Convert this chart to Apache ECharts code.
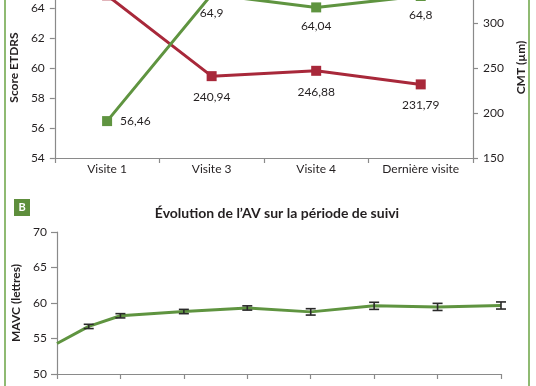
<!DOCTYPE html>
<html>
<head>
<meta charset="utf-8">
<script src="https://cdn.jsdelivr.net/npm/echarts@6/dist/echarts.min.js"></script>
<style>
html,body{margin:0;padding:0;background:#fff;}
#c{width:536px;height:386px;}
</style>
</head>
<body>
<div id="c"></div>
<script>
// ---- Panel A data ----
const visits = ['Visite 1', 'Visite 3', 'Visite 4', 'Dernière visite'];
const etdrs = [56.46, 64.9, 64.04, 64.8];
const cmt = [330.72, 240.94, 246.88, 231.79];
// ---- Panel B data ----
const months = [0, 3, 6, 12, 18, 24, 30, 36, 42];
const mavc = [54.3, 56.7, 58.2, 58.8, 59.3, 58.75, 59.6, 59.45, 59.65];
const mavcErr = [0, 0.3, 0.3, 0.3, 0.3, 0.45, 0.5, 0.5, 0.5];
const titleB = 'Évolution de l\u2019AV sur la période de suivi';

const FONT = 'Lato';
const TXT = '#231f20';
const AXC = '#8a8a8a';
const GREEN = '#5f9440';
const RED = '#a8283a';
const fmt = v => String(v).replace('.', ',');

const chart = echarts.init(document.getElementById('c'), null, {renderer: 'canvas'});

const axisCommon = {
  axisLine: {show: true, lineStyle: {color: AXC, width: 1.2}},
  axisTick: {show: true, length: 5, lineStyle: {color: AXC, width: 1.2}},
  splitLine: {show: false},
  axisLabel: {color: TXT, fontFamily: FONT, fontSize: 12},
  nameTextStyle: {color: TXT, fontFamily: FONT, fontSize: 12, fontWeight: 'bold'}
};
const nameShifted = {color: TXT, fontFamily: FONT, fontSize: 12, fontWeight: 'bold', padding: [0, 0, 0, 23]};

// panel A is cut at the top of the picture: the axes run past the top edge
const gridAHeight = 158;
const leftMax = 54 + gridAHeight / 15;      // 2 units per 30 px
const rightMax = 150 + gridAHeight / 0.9;   // 50 units per 45 px

const option = {
  animation: false,
  textStyle: {fontFamily: FONT},
  title: {
    text: titleB, left: 272, top: 201, textAlign: 'center',
    textStyle: {fontFamily: FONT, fontSize: 14, fontWeight: 'bold', color: TXT}
  },
  grid: [
    {left: 51, right: 63, top: 0, height: gridAHeight},
    {left: 57, right: 35, top: 232, height: 142}
  ],
  xAxis: [
    Object.assign({}, axisCommon, {
      gridIndex: 0, type: 'category', data: visits, boundaryGap: true,
      axisLabel: {color: TXT, fontFamily: FONT, fontSize: 12, margin: 5}
    }),
    Object.assign({}, axisCommon, {
      gridIndex: 1, type: 'value', min: 0, max: 42, interval: 6,
      axisLabel: {show: false}
    })
  ],
  yAxis: [
    Object.assign({}, axisCommon, {
      gridIndex: 0, type: 'value', min: 54, max: leftMax, interval: 2, position: 'left',
      name: 'Score ETDRS', nameLocation: 'middle', nameGap: 23, nameTextStyle: nameShifted,
      axisLabel: {color: TXT, fontFamily: FONT, fontSize: 12, margin: 10, showMaxLabel: false}
    }),
    Object.assign({}, axisCommon, {
      gridIndex: 0, type: 'value', min: 150, max: rightMax, interval: 50, position: 'right',
      name: 'CMT (µm)', nameLocation: 'middle', nameGap: 31, nameRotate: 90, nameTextStyle: nameShifted,
      axisLabel: {color: TXT, fontFamily: FONT, fontSize: 12, margin: 10, showMaxLabel: false}
    }),
    Object.assign({}, axisCommon, {
      gridIndex: 1, type: 'value', min: 50, max: 70, interval: 5,
      name: 'MAVC (lettres)', nameLocation: 'middle', nameGap: 30,
      axisTick: {show: true, length: 6, lineStyle: {color: AXC, width: 1.2}},
      axisLabel: {color: TXT, fontFamily: FONT, fontSize: 12, margin: 10}
    })
  ],
  series: [
    {
      type: 'line', xAxisIndex: 0, yAxisIndex: 1, clip: false,
      data: cmt.map((v, i) => ({value: v, label: {position: i === 0 ? 'top' : 'bottom'}})),
      symbol: 'rect', symbolSize: 10,
      lineStyle: {color: RED, width: 3},
      itemStyle: {color: RED},
      label: {show: true, position: 'bottom', distance: 10, color: TXT, fontFamily: FONT, fontSize: 12,
        formatter: p => fmt(p.value)}
    },
    {
      type: 'line', xAxisIndex: 0, yAxisIndex: 0, clip: false,
      data: etdrs.map((v, i) => ({value: v, label: {position: i === 0 ? 'right' : 'bottom'}})),
      symbol: 'rect', symbolSize: 10,
      lineStyle: {color: GREEN, width: 3},
      itemStyle: {color: GREEN},
      label: {show: true, position: 'bottom', distance: 8, color: TXT, fontFamily: FONT, fontSize: 12,
        formatter: p => fmt(p.value)}
    },
    {
      type: 'line', xAxisIndex: 1, yAxisIndex: 2,
      data: months.map((m, i) => [m, mavc[i]]),
      showSymbol: false, symbol: 'none',
      lineStyle: {color: GREEN, width: 3},
      z: 2
    },
    {
      type: 'custom', xAxisIndex: 1, yAxisIndex: 2, z: 3,
      data: months.map((m, i) => [m, mavc[i] - mavcErr[i], mavc[i] + mavcErr[i]]).slice(1),
      renderItem: function (params, api) {
        const x = api.value(0);
        const lo = api.coord([x, api.value(1)]);
        const hi = api.coord([x, api.value(2)]);
        const hw = 5;
        const st = {stroke: '#2a2a2a', lineWidth: 1.6, fill: null};
        return {
          type: 'group',
          children: [
            {type: 'line', shape: {x1: lo[0], y1: lo[1], x2: hi[0], y2: hi[1]}, style: st},
            {type: 'line', shape: {x1: lo[0] - hw, y1: lo[1], x2: lo[0] + hw, y2: lo[1]}, style: st},
            {type: 'line', shape: {x1: hi[0] - hw, y1: hi[1], x2: hi[0] + hw, y2: hi[1]}, style: st}
          ]
        };
      }
    }
  ],
  graphic: [
    {type: 'rect', shape: {x: 4, y: 0, width: 2, height: 386}, style: {fill: '#8fba72'}, silent: true},
    {type: 'rect', shape: {x: 528, y: 0, width: 2, height: 386}, style: {fill: '#8fba72'}, silent: true},
    {type: 'rect', shape: {x: 14, y: 199, width: 16, height: 17}, style: {fill: '#5e8e3c'}, silent: true},
    {type: 'text', x: 22, y: 207.5, style: {text: 'B', fill: '#fff', font: 'bold 11px Lato', textAlign: 'center', textVerticalAlign: 'middle'}, silent: true}
  ]
};
chart.setOption(option);
</script>
</body>
</html>
